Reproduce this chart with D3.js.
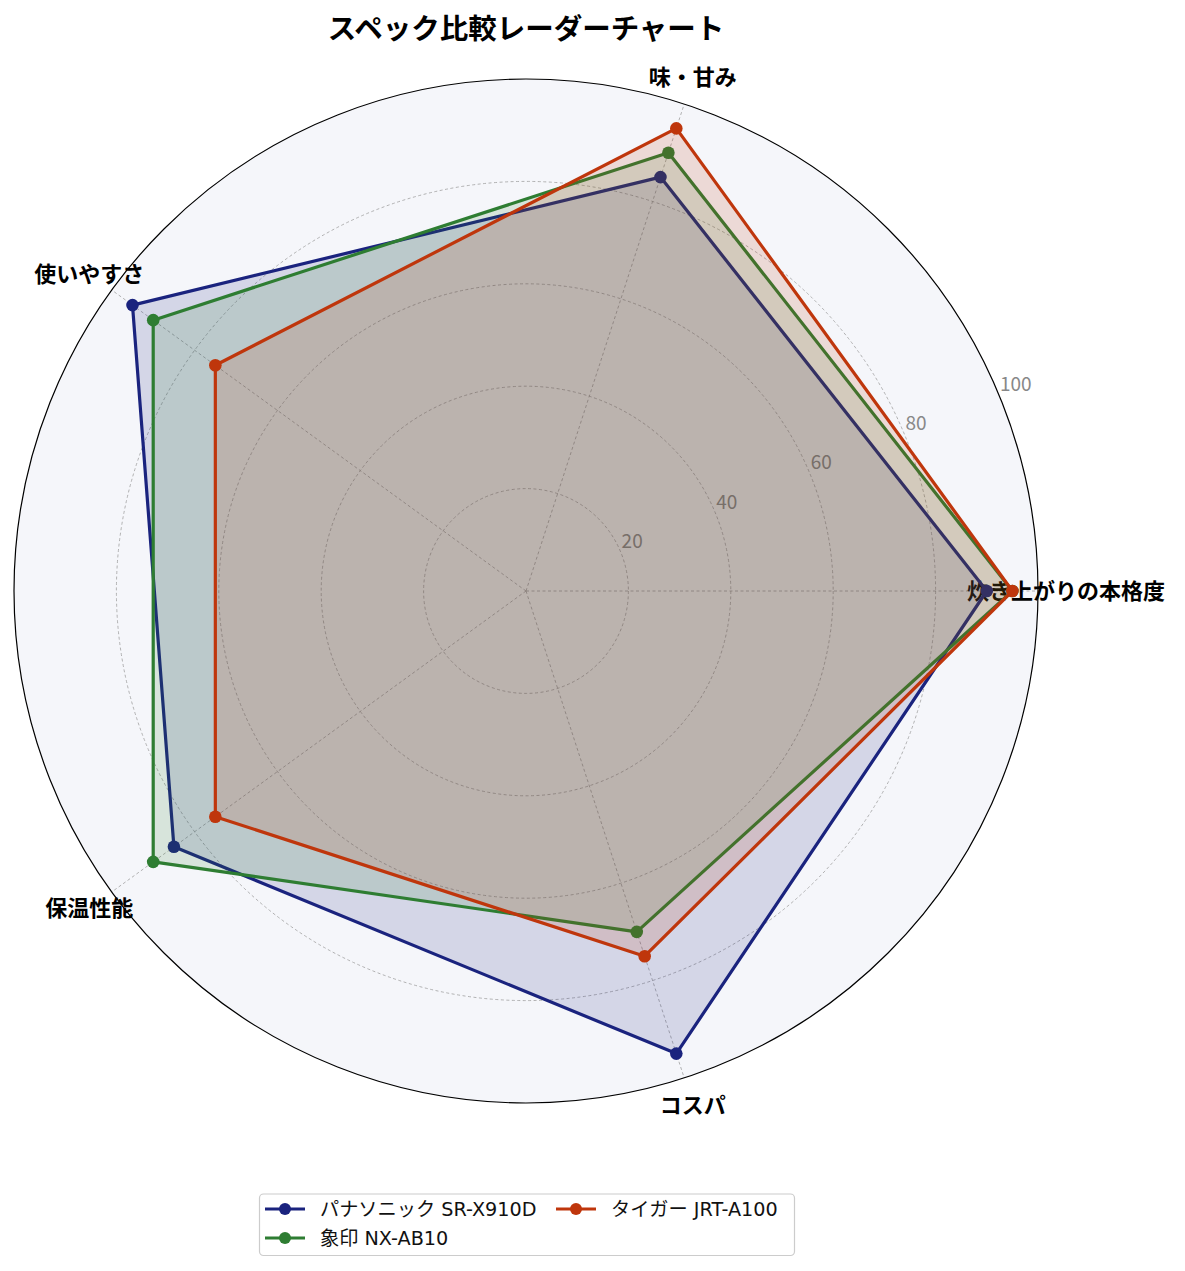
<!DOCTYPE html>
<html>
<head>
<meta charset="utf-8">
<script src="https://cdn.jsdelivr.net/npm/d3@7"></script>
<style>
  html, body { margin: 0; padding: 0; background: #ffffff; }
  svg { display: block; font-family: "Noto Sans CJK JP", "Noto Sans", sans-serif; }
</style>
</head>
<body>
<svg id="chart" width="1185" height="1271"></svg>
<script>
// ---- data ----
const categories = ["炊き上がりの本格度", "味・甘み", "使いやすさ", "保温性能", "コスパ"];
const seriesNames = ["パナソニック SR-X910D", "象印 NX-AB10", "タイガー JRT-A100"];
const panasonicValues = [90, 85, 95, 85, 95];
const zojirushiValues = [95, 90, 90, 90, 70];
const tigerValues = [95, 95, 75, 75, 75];
const seriesColors = ["#1a237e", "#2e7d32", "#bf360c"];
const radialTicks = [20, 40, 60, 80, 100];
const titleText = "スペック比較レーダーチャート";

const seriesValues = [panasonicValues, zojirushiValues, tigerValues];

// ---- layout ----
const svg = d3.select("#chart");
const cx = 526, cy = 591, R = 512;
const g = svg.append("g").attr("transform", `translate(${cx},${cy})`);

const r = d3.scaleLinear().domain([0, 100]).range([0, R]);
const angleMath = d3.scaleLinear().domain([0, categories.length]).range([0, 2 * Math.PI]); // CCW from east
const toD3Angle = i => Math.PI / 2 - angleMath(i);
const px = (i, v) => r(v) * Math.cos(angleMath(i));
const py = (i, v) => -r(v) * Math.sin(angleMath(i));

// background
g.append("circle").attr("r", R).attr("fill", "#f5f6fa").attr("stroke", "none");

// grid circles
g.selectAll("circle.grid").data(radialTicks.filter(t => t < 100)).enter()
  .append("circle").attr("class", "grid")
  .attr("r", d => r(d)).attr("fill", "none")
  .attr("stroke", "#a0a0a0").attr("stroke-width", 0.8).attr("stroke-dasharray", "3,2.5");

// spokes
g.selectAll("line.spoke").data(categories).enter()
  .append("line").attr("class", "spoke")
  .attr("x1", 0).attr("y1", 0)
  .attr("x2", (d, i) => px(i, 100)).attr("y2", (d, i) => py(i, 100))
  .attr("stroke", "#a0a0a0").attr("stroke-width", 0.8).attr("stroke-dasharray", "3,2.5");

// outer spine
g.append("circle").attr("r", R).attr("fill", "none").attr("stroke", "#000").attr("stroke-width", 1.2);

// radial tick labels at 22.5deg
const rlAng = 22.5 * Math.PI / 180;
g.selectAll("text.rtick").data(radialTicks).enter()
  .append("text").attr("class", "rtick")
  .attr("x", d => r(d) * Math.cos(rlAng) + 1)
  .attr("y", d => -r(d) * Math.sin(rlAng) - 4)
  .attr("font-size", 19).attr("fill", "#888888")
  .text(d => d);

// category labels
g.selectAll("text.cat").data(categories).enter()
  .append("text").attr("class", "cat")
  .attr("x", (d, i) => 540 * Math.cos(angleMath(i)))
  .attr("y", (d, i) => -540 * Math.sin(angleMath(i)) - 2)
  .attr("text-anchor", "middle").attr("dominant-baseline", "central")
  .attr("font-size", 22).attr("font-weight", "bold").attr("fill", "#000")
  .text(d => d);

// series
const radial = d3.lineRadial()
  .angle((d, i) => toD3Angle(i))
  .radius(d => r(d))
  .curve(d3.curveLinearClosed);

seriesValues.forEach((vals, s) => {
  const sg = g.append("g");
  sg.append("path").attr("d", radial(vals))
    .attr("fill", seriesColors[s]).attr("fill-opacity", 0.15).attr("stroke", "none");
  sg.append("path").attr("d", radial(vals))
    .attr("fill", "none").attr("stroke", seriesColors[s]).attr("stroke-width", 3.2)
    .attr("stroke-linejoin", "round");
  sg.selectAll("circle").data(vals).enter().append("circle")
    .attr("cx", (d, i) => px(i, d)).attr("cy", (d, i) => py(i, d))
    .attr("r", 6.3).attr("fill", seriesColors[s]);
});

// title
svg.append("text").attr("x", cx).attr("y", 26)
  .attr("text-anchor", "middle").attr("dominant-baseline", "central")
  .attr("font-size", 28.5).attr("font-weight", "bold").attr("fill", "#000")
  .text(titleText);

// legend
const lg = svg.append("g");
lg.append("rect").attr("x", 259.5).attr("y", 1194).attr("width", 535).attr("height", 61.5)
  .attr("rx", 4).attr("fill", "#fff").attr("stroke", "#cccccc").attr("stroke-width", 1.2);
const legendPos = [
  { x: 265, y: 1209 },
  { x: 265, y: 1238 },
  { x: 556, y: 1209 }
];
seriesNames.forEach((name, s) => {
  const p = legendPos[s];
  lg.append("line").attr("x1", p.x).attr("x2", p.x + 40).attr("y1", p.y).attr("y2", p.y)
    .attr("stroke", seriesColors[s]).attr("stroke-width", 3.2);
  lg.append("circle").attr("cx", p.x + 20).attr("cy", p.y).attr("r", 6).attr("fill", seriesColors[s]);
  lg.append("text").attr("x", p.x + 55).attr("y", p.y)
    .attr("dominant-baseline", "central").attr("font-size", 19.2)
    .attr("font-family", "'DejaVu Sans', 'Noto Sans CJK JP', sans-serif")
    .attr("fill", "#111")
    .text(name);
});
</script>
</body>
</html>
